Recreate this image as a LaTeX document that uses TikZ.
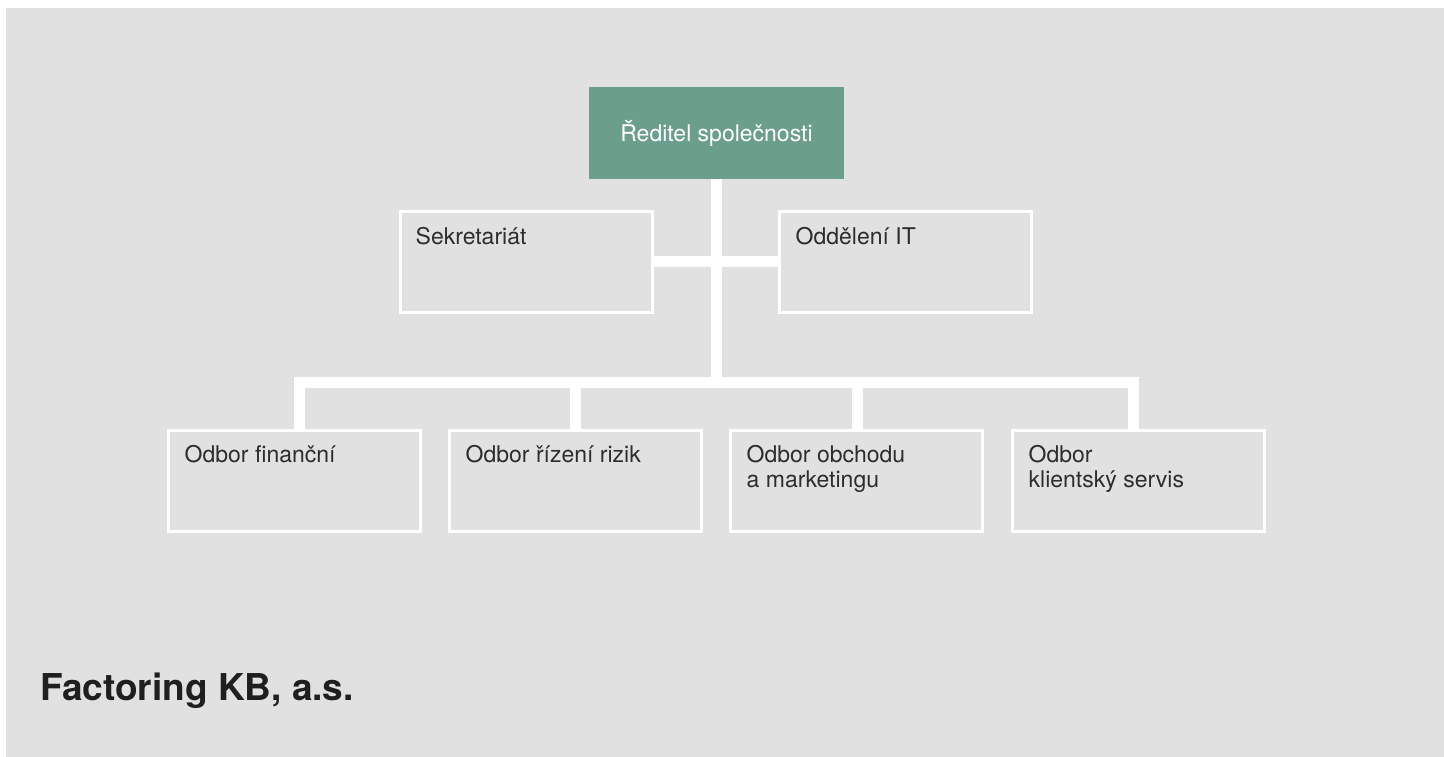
\documentclass[tikz,border=0pt]{standalone}
\usepackage{fontspec}
\setmainfont{TeX Gyre Heros}
\usetikzlibrary{calc}
\definecolor{bggray}{RGB}{225,225,225}
\definecolor{headgreen}{RGB}{108,158,140}
\definecolor{txtgray}{RGB}{45,45,45}
\tikzset{
  unitbox/.style={draw=white, line width=3pt, minimum width=252pt, minimum height=101pt, inner sep=0pt},
  headbox/.style={fill=headgreen, minimum width=255pt, minimum height=92pt, inner sep=0pt,
    text=white, font=\fontsize{23}{27}\selectfont},
  boxtext/.style={anchor=base west, inner sep=0pt, align=left, text=txtgray,
    font=\fontsize{23}{25}\selectfont},
  conn/.style={draw=white, line width=11pt},
  titletext/.style={anchor=base west, inner sep=0pt, text=black!88,
    font=\fontsize{37}{40}\selectfont\bfseries}
}
\begin{document}
\begin{tikzpicture}[x=1pt,y=-1pt]
\useasboundingbox (0,0) rectangle (1444,757);
\fill[bggray] (6,8) rectangle (1444,757);

% nodes
\node[headbox] (dir) at (716.5,133) {Ředitel společnosti};
\node[unitbox] (sek) at (526.5,262) {};
\node[unitbox] (it) at (905.5,262) {};
\node[unitbox] (fin) at (294.5,481) {};
\node[unitbox] (riz) at (575.5,481) {};
\node[unitbox] (obch) at (856.5,481) {};
\node[unitbox] (kli) at (1138.5,481) {};

% connectors
\coordinate (hub) at (716.5,382);
\draw[conn] (dir.south) -- (hub);
\draw[conn] (sek.east |- 0,261.5) -- (it.west |- 0,261.5);
\draw[conn, line join=miter] ([xshift=5pt]fin.north) |- (hub) -| ([xshift=-5pt]kli.north);
\draw[conn] (hub) -| (riz.north);
\draw[conn] (hub) -| ([xshift=1pt]obch.north);

% texts
\node[boxtext] (sekt) at ($(sek.north west)+(16.5,34.5)$) {Sekretariát};
\node[boxtext] (itt) at ($(it.north west)+(17.5,34.5)$) {Oddělení IT};
\node[boxtext] (fint) at ($(fin.north west)+(17.5,33.5)$) {Odbor finanční};
\node[boxtext] (rizt) at ($(riz.north west)+(17.5,33.5)$) {Odbor řízení rizik};
\node[boxtext] (obcht) at ($(obch.north west)+(17.5,58.5)$) {Odbor obchodu\\a marketingu};
\node[boxtext] (klit) at ($(kli.north west)+(17.5,58.5)$) {Odbor\\klientský servis};

\node[titletext] (title) at (40,700) {Factoring KB, a.s.};
\end{tikzpicture}
\end{document}
